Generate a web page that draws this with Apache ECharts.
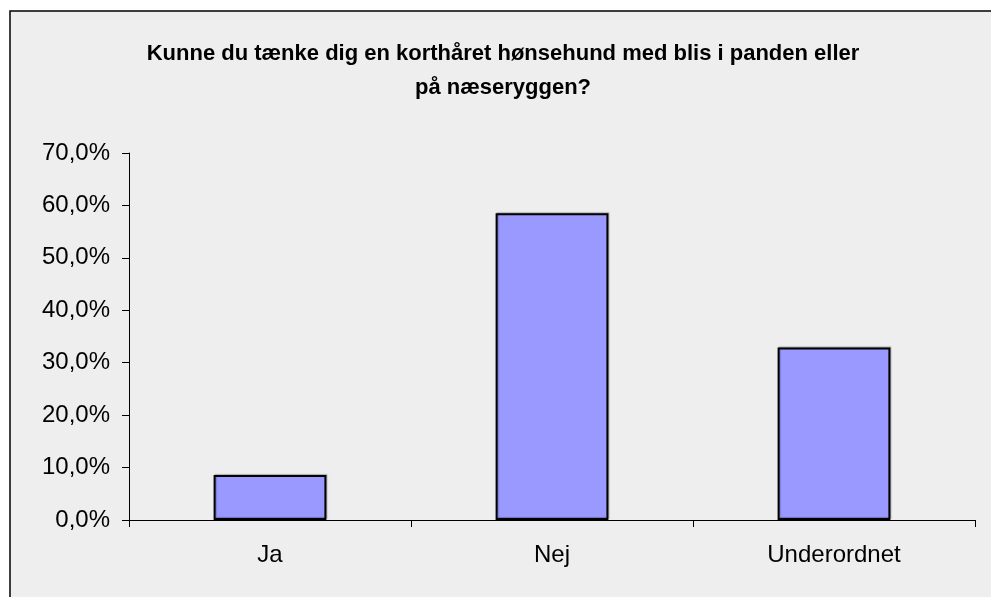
<!DOCTYPE html>
<html>
<head>
<meta charset="utf-8">
<script src="https://cdn.jsdelivr.net/npm/echarts@6/dist/echarts.min.js"></script>
<style>
  html, body { margin: 0; padding: 0; background: #fff; }
  #chart { width: 991px; height: 597px; }
</style>
</head>
<body>
<div id="chart"></div>
<script>
const categories = ['Ja', 'Nej', 'Underordnet']
const values = [8.6, 58.5, 32.9]
const titleText = 'Kunne du tænke dig en korthåret hønsehund med blis i panden eller\npå næseryggen?'

const chart = echarts.init(document.getElementById('chart'))

chart.setOption({
  backgroundColor: '#fff',
  animation: false,
  graphic: [{
    type: 'rect',
    shape: { x: 10, y: 11, width: 1000, height: 600 },
    style: { fill: '#eeeeee', stroke: '#000', lineWidth: 1.5 },
    z: -10
  }],
  title: {
    text: titleText,
    left: 498,
    top: 32,
    textAlign: 'center',
    textStyle: {
      fontFamily: 'Liberation Sans, Arial, sans-serif',
      fontSize: 22,
      fontWeight: 'bold',
      color: '#000',
      lineHeight: 34
    }
  },
  grid: { left: 129, right: 16, top: 153, bottom: 77 },
  xAxis: {
    type: 'category',
    data: categories,
    axisLine: { lineStyle: { color: '#000', width: 1 } },
    axisTick: { show: true, length: 7, lineStyle: { color: '#000' } },
    axisLabel: {
      color: '#000',
      fontFamily: 'Liberation Sans, Arial, sans-serif',
      fontSize: 24,
      margin: 23
    }
  },
  yAxis: {
    type: 'value',
    min: 0,
    max: 70,
    interval: 10,
    splitLine: { show: false },
    axisLine: { show: true, lineStyle: { color: '#000', width: 1 } },
    axisTick: { show: true, length: 7, lineStyle: { color: '#000' } },
    axisLabel: {
      color: '#000',
      fontFamily: 'Liberation Sans, Arial, sans-serif',
      fontSize: 24,
      margin: 19,
      formatter: v => v.toFixed(1).replace('.', ',') + '%'
    }
  },
  series: [{
    type: 'bar',
    data: values,
    barWidth: '40%',
    itemStyle: {
      color: '#9999ff',
      borderColor: '#000',
      borderWidth: 2,
      shadowColor: 'rgba(0,0,0,0.25)',
      shadowOffsetX: 1,
      shadowOffsetY: -1,
      shadowBlur: 1
    }
  }]
})
</script>
</body>
</html>
